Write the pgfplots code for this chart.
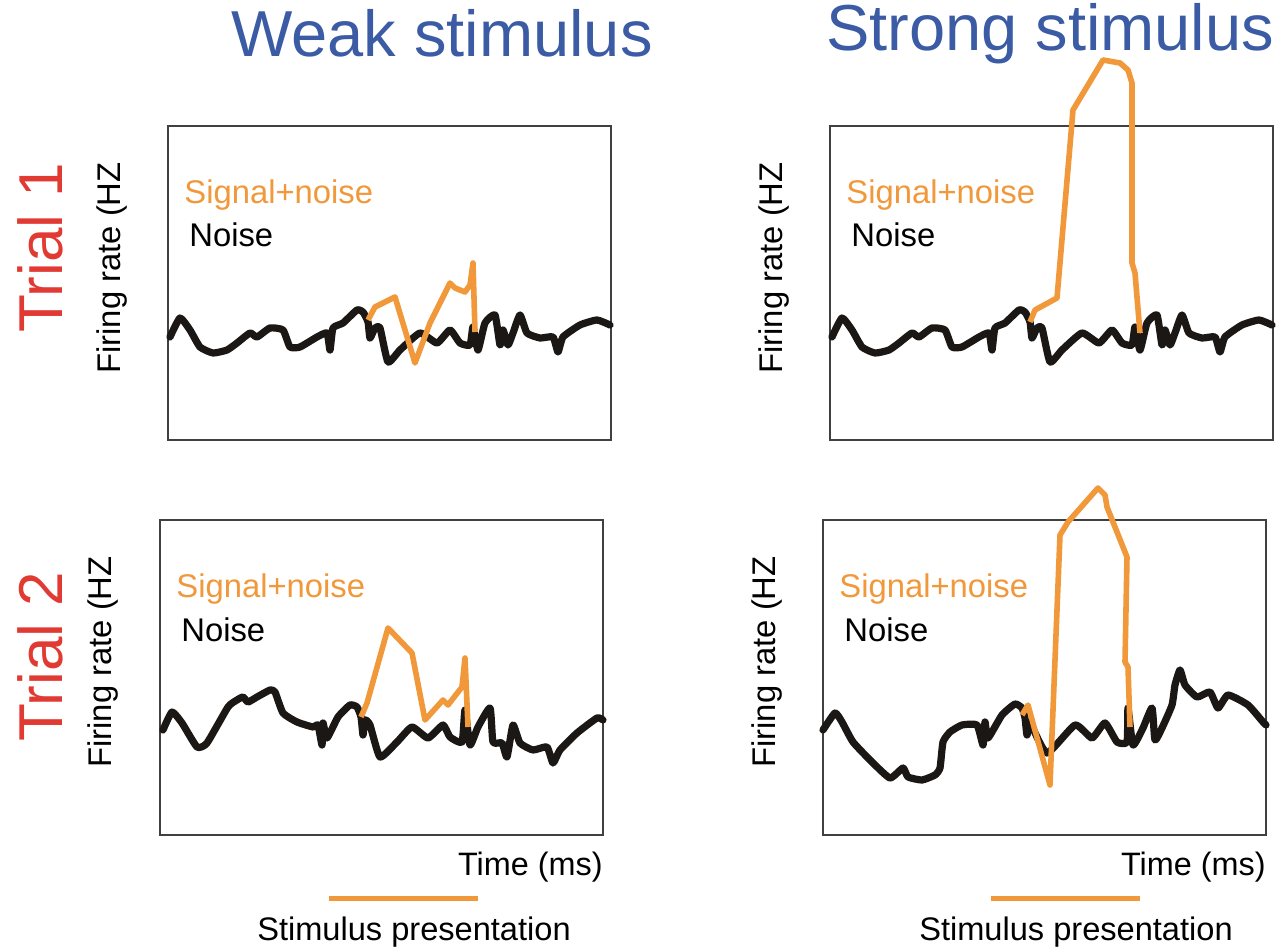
\documentclass[border=0pt]{standalone}
\usepackage{pgfplots}
\pgfplotsset{compat=1.18}
\usepackage{pgfplotstable}
\usepackage{fontspec}
\setmainfont{Liberation Sans}
\definecolor{sigorange}{HTML}{F0983A}
\definecolor{titleblue}{HTML}{3B5BA5}
\definecolor{trialred}{HTML}{E03A33}
\definecolor{noiseblack}{HTML}{1A1714}

\pgfplotstableread{
x y
2 211
12 192
22 204
32 221
45 227
59 224
69 217
82 207
89 211
102 202
115 204
122 221
132 221
149 211
159 207
162 224
165 202
175 197
189 184
195 186
200 196
202 212
207 202
212 202
220 236
232 224
252 207
269 217
282 204
292 217
302 219
305 201
310 224
317 197
327 189
332 219
335 204
340 219
345 207
352 189
359 207
372 212
385 211
390 226
395 211
412 199
429 194
442 199
}\noisetop

\pgfplotstableread{
x y
200 194
207 181
227 171
247 237
262 197
282 157
287 162
297 166
302 159
305 137
307 206
}\sigTL

\pgfplotstableread{
x y
200 196
205 184
227 172
243 -16
273 -66
290 -63
298 -56
302 -43
302 137
305 147
310 207
}\sigTR

\pgfplotstableread{
x y
3 210
12 192
22 203
37 227
47 223
68 187
77 180
83 177
88 182
97 177
110 170
115 172
123 193
137 202
153 207
158 205
162 225
163 203
167 218
178 197
190 185
197 187
201 197
203 215
205 200
210 205
220 237
237 222
252 207
268 218
283 205
290 217
302 222
305 190
310 225
318 207
330 188
333 222
342 223
347 237
353 205
360 223
373 230
387 227
393 243
400 230
417 213
437 198
443 200
}\noiseBL

\pgfplotstableread{
x y
201 197
207 183
228 108
252 133
265 200
283 180
288 185
302 167
305 138
308 207
}\sigBL

\pgfplotstableread{
x y
0 210
12 193
19 202
30 222
49 242
67 258
80 248
85 257
99 260
112 255
117 248
120 222
127 212
139 205
154 205
160 225
162 202
165 218
179 195
192 184
199 188
202 198
204 215
207 203
224 233
252 205
269 218
282 203
294 222
304 222
305 188
310 225
320 208
329 188
332 220
339 208
349 185
352 165
357 150
362 165
374 177
387 172
395 188
405 175
425 185
440 202
443 205
}\noiseBR

\pgfplotstableread{
x y
199 195
205 185
227 265
237 15
245 2
275 -32
282 -25
284 -13
304 37
302 142
305 147
307 207
}\sigBR

\pgfplotsset{
  panel/.style={
    anchor=north west,
    width=221.5pt, height=157pt, scale only axis,
    xmin=0, xmax=443, ymin=0, ymax=314,
    y dir=reverse,
    ticks=none,
    axis line style={draw=black!75, line width=0.6pt},
    clip=false,
  },
  noisestyle/.style={noiseblack, line width=3.6pt, line join=round, line cap=round, smooth, tension=0.3},
  sigstyle/.style={sigorange, line width=2.8pt, line join=round, line cap=butt},
}

\begin{document}
\begin{tikzpicture}[x=0.5pt, y=-0.5pt]
\useasboundingbox (0,0) rectangle (1282,952);
\coordinate (TL) at (168,126);
\coordinate (TR) at (830,126);
\coordinate (BL) at (160,520);
\coordinate (BR) at (823,520);

\begin{axis}[panel, at={(TL)}]
\addplot[noisestyle] table {\noisetop};
\addplot[sigstyle] table {\sigTL};
\end{axis}

\begin{axis}[panel, at={(TR)}]
\addplot[noisestyle] table {\noisetop};
\addplot[sigstyle] table {\sigTR};
\end{axis}

\begin{axis}[panel, at={(BL)}, height=157.5pt, ymax=315]
\addplot[noisestyle] table {\noiseBL};
\addplot[sigstyle] table {\sigBL};
\end{axis}

\begin{axis}[panel, at={(BR)}, height=157.5pt, ymax=315]
\addplot[noisestyle] table {\noiseBR};
\addplot[sigstyle] table {\sigBR};
\end{axis}

% titles
\node[anchor=base, inner sep=0, text=titleblue, font=\fontsize{32.5}{36}\selectfont] at (442,57) {Weak stimulus};
\node[anchor=base, inner sep=0, text=titleblue, font=\fontsize{32.5}{36}\selectfont] at (1050,51) {Strong stimulus};

% trial labels
\node[anchor=base, rotate=90, inner sep=0, text=trialred, font=\fontsize{31}{34}\selectfont] at (62,248) {Trial 1};
\node[anchor=base, rotate=90, inner sep=0, text=trialred, font=\fontsize{31}{34}\selectfont] at (62,657) {Trial 2};

% y labels
\foreach \xx/\yy in {120/268, 782/268, 112/662, 775/662}{
  \node[anchor=base, rotate=90, inner sep=0, font=\fontsize{16.4}{18}\selectfont] at (\xx,\yy) {Firing rate (HZ};
}

% legend-like texts
\foreach \xx/\yy in {168/126, 830/126, 160/520, 823/520}{
  \node[anchor=base west, inner sep=0, text=sigorange, font=\fontsize{16.4}{18}\selectfont] at ({\xx+16},{\yy+78}) {Signal+noise};
  \node[anchor=base west, inner sep=0, font=\fontsize{16.4}{18}\selectfont] at ({\xx+21},{\yy+121}) {Noise};
}

% time labels
\node[anchor=base east, inner sep=0, font=\fontsize{16.2}{18}\selectfont] at (603,875) {Time (ms)};
\node[anchor=base east, inner sep=0, font=\fontsize{16.2}{18}\selectfont] at (1266,875) {Time (ms)};

% stimulus bars
\draw[sigorange, line width=2.6pt] (329,898.5) -- (478,898.5);
\draw[sigorange, line width=2.6pt] (991,898.5) -- (1140,898.5);
\node[anchor=base, inner sep=0, font=\fontsize{16.3}{18}\selectfont] at (414,940) {Stimulus presentation};
\node[anchor=base, inner sep=0, font=\fontsize{16.3}{18}\selectfont] at (1076,940) {Stimulus presentation};
\end{tikzpicture}
\end{document}
